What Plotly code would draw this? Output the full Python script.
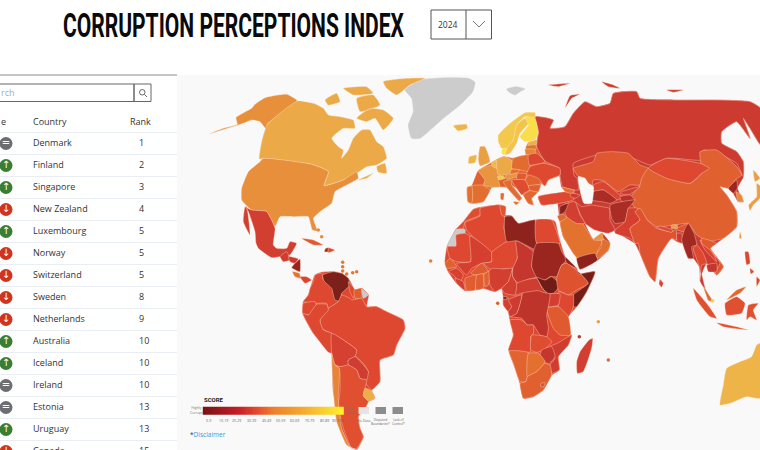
import plotly.graph_objects as go

title = "CORRUPTION PERCEPTIONS INDEX"
year = "2024"
countries = ["Denmark","Finland","Singapore","New Zealand","Luxembourg","Norway","Switzerland","Sweden",
             "Netherlands","Australia","Iceland","Ireland","Estonia","Uruguay","Canada"]
ranks = [1,2,3,4,5,5,5,8,9,10,10,10,13,13,15]
changes = ["same","up","up","down","up","down","down","down","down","up","up","same","same","up","down"]
legend_labels = ["0-9","10-19","20-29","30-39","40-49","50-59","60-69","70-79","80-89","90-100"]

# score (0-100) of every country on the map, read from its shade
scores = {"RUS":22,"CAN":75,"USA":65,"ALK":65,"MEX":26,"GTM":25,"HND":22,"NIC":14,"CRI":58,"PAN":33,"CUB":41,"HTI":16,"DOM":36,
 "COL":34,"VEN":10,"GUY":34,"SUR":42,"ECU":34,"PER":34,"BRA":34,"BOL":28,"PRY":24,"URY":76,"ARG":37,"CHL":63,
 "MAR":36,"ALG":34,"TUN":39,"MRT":34,"MLI":27,"SEN":45,"GIN":28,"LBR":27,"BFA":41,"CIV":42,"GHA":42,"BEN":45,"NGA":26,"NER":34,
 "TCD":21,"LBY":13,"EGY":34,"SDN":15,"SSD":8,"ERI":13,"ETH":38,"SOM":9,"KEN":34,"UGA":26,"TZA":41,"COD":20,"CAF":24,"CMR":26,
 "GAB":27,"COG":23,"GNQ":13,"AGO":34,"ZMB":36,"MOZ":25,"ZWE":21,"NAM":47,"BWA":57,"ZAF":43,"MDG":26,"LSO":37,
 "SAU":59,"YEM":13,"OMN":55,"ARE":68,"IRN":23,"IRQ":26,"SYR":12,"TUR":34,"TKM":17,"UZB":32,"KAZ":40,"KGZ":25,"TJK":19,"AFG":17,
 "PAK":27,"IND":38,"NPL":34,"BTN":72,"LKA":32,"BGD":23,"MMR":16,"THA":34,"LAO":33,"VNM":40,"KHM":21,"CHN":43,"MNG":34,"PRK":15,
 "KOR":64,"JPN":71,"TWN":68,"PHL":33,"IDN":37,"MYS":50,"SGP":84,"AUS":77,
 "NOR":81,"SWE":80,"FIN":88,"DNK":90,"EST":76,"LVA":59,"LTU":63,"GBR":71,"IRL":77,"ISL":77,"FRA":67,"ESP":56,"PRT":57,"DEU":75,
 "NLD":78,"CHE":81,"AUT":67,"POL":53,"CZE":56,"BLR":33,"UKR":35,"ROU":46,"HUN":41,"BLK":36,"BGR":43,"GRC":49,"ITA":54,"GEO":53,"AZE":22,"JOR":49,"CPV":62,"SYC":72,"MUS":51,"COM":21,"STP":45,"BHS":64,"CAR":60,
 "_EUA":22,"_EUR":43,"_AFR":34,"_SAM":34}
no_data = ["GRL","ESH","GUF","SJM"]

# origins of the 3x crops the outlines were read in
A=(180,75); S=(300,265); F=(440,200); E=(460,100); R=(470,75); P=(560,140)

outlines = {
 "_EUA":[(R,"205,170 195,125 250,135 240,160 285,155 310,115 345,80 380,95 420,85 430,55 500,50 510,70 620,75 740,75 840,80 872,100 872,210 840,160 820,130 840,190 800,140 755,170 755,205 800,230 820,260 820,305 802,340 820,380 805,380 790,355 775,340 750,335 770,360 800,410 800,455 760,490 722,520 760,575 740,600 710,565 690,615 728,680 715,675 688,575 670,550 655,550 635,495 622,500 605,490 565,550 555,620 540,605 510,535 495,505 435,470 420,460 375,465 345,445 370,493 395,475 420,505 415,525 383,555 330,583 320,547 280,485 270,440 265,395 262,380 215,390 205,365 290,350 275,336 268,300 225,258 200,215")],
 "_EUR":[(E,"22,262 35,258 55,212 95,188 108,180 130,170 160,175 205,165 198,148 205,128 230,122 255,185 300,205 300,225 265,240 255,258 235,240 245,250 242,255 235,275 232,278 215,295 220,315 205,310 190,285 170,265 155,255 185,295 178,302 140,262 120,260 95,262 90,270 70,305 35,310 24,305")],
 "_AFR":[(F,"100,28 122,22 180,15 197,20 195,45 215,48 235,70 285,60 335,60 345,65 355,105 375,170 410,205 415,222 465,215 440,275 410,320 385,350 392,405 395,405 385,435 355,470 358,510 335,525 310,570 280,590 250,595 240,550 220,490 207,453 220,405 210,360 205,335 190,315 190,290 185,265 165,275 130,265 105,270 75,272 50,250 25,215 15,190 22,138 48,88 70,65")],
 "_SAM":[(S,"45,30 65,22 100,20 125,25 145,40 165,75 185,70 205,90 200,125 230,125 260,140 310,165 315,190 290,240 280,270 240,285 240,350 215,375 225,400 205,410 195,430 175,455 180,490 190,515 170,553 150,545 125,490 100,380 95,265 40,205 8,145 10,110 25,90")],
 "GRL":[(A,"675,45 720,15 800,8 865,10 885,22 878,50 840,90 790,130 720,190 695,190 685,150 700,110 695,70"),(R,"110,42 140,35 165,42 150,50 135,60 118,52")],
 "ALK":[(A,"88,177 130,160 172,148 168,128 215,100 225,88 255,68 320,58 352,78 262,148 272,180 256,160 240,140 215,135 190,145")],
 "CAN":[(A,"352,78 400,85 430,100 445,120 480,125 520,135 525,160 490,160 455,190 475,215 490,225 485,250 505,225 520,190 545,165 570,165 590,200 610,215 620,250 590,270 560,275 530,295 490,315 432,332 445,290 395,268 250,250 238,252 245,200 262,148"),
   (A,"530,130 570,100 610,105 640,130 610,165 585,130 560,140"),(A,"610,20 680,10 735,10 690,30 650,60 620,40"),(A,"435,75 470,55 480,80 445,90"),
   (A,"490,40 560,35 580,55 520,60"),(A,"530,70 580,60 600,90 540,110"),(A,"590,275 615,265 620,295 595,292"),(A,"535,315 580,295 560,310")],
 "USA":[(A,"250,250 395,268 445,290 432,332 490,315 530,290 535,310 500,330 465,350 455,385 420,410 400,430 412,468 397,465 385,425 340,425 300,425 285,455 260,410 215,405 185,375 185,340 205,290 240,260")],
 "MEX":[(A,"195,395 215,405 260,410 285,460 280,510 290,520 320,520 330,500 350,505 330,540 315,545 300,545 275,548 235,520 228,505 225,470 205,410"),(A,"195,395 200,395 210,480 190,440")],
 "GTM":[(A,"300,545 320,530 330,555 310,560")],
 "HND":[(A,"325,545 355,552 345,565 330,560")],
 "NIC":[(A,"345,565 360,552 360,590 335,578")],
 "CRI":[(A,"337,590 358,595 362,610 345,605")],
 "PAN":[(A,"360,605 380,605 395,615 375,625")],
 "CUB":[(A,"365,490 400,495 430,510 400,510")],
 "HTI":[(A,"437,520 445,518 445,530 433,530")],
 "DOM":[(A,"445,518 465,525 445,533")],
 "COL":[(S,"45,30 65,25 70,45 95,60 100,80 125,85 115,110 85,130 80,115 50,115 10,110 25,90 30,70 40,50")],
 "VEN":[(S,"68,30 100,20 125,25 145,40 150,60 125,85 120,108 105,105 95,70 72,48")],
 "GUY":[(S,"145,50 165,75 160,100 150,80")],
 "SUR":[(S,"162,75 185,70 185,100 165,100")],
 "GUF":[(S,"185,72 205,90 190,100")],
 "ECU":[(S,"10,115 45,110 50,130 25,150 8,145")],
 "BRA":[(S,"85,130 115,110 125,90 150,100 155,105 185,100 200,125 230,125 260,140 310,165 315,190 290,240 280,270 240,285 240,350 215,375 195,350 205,320 190,295 165,270 170,255 130,225 95,205 65,190 60,165")],
 "PER":[(S,"8,145 25,150 50,118 80,118 85,135 60,165 70,195 95,205 100,230 95,265 85,262 40,205")],
 "BOL":[(S,"95,205 130,225 170,255 165,275 145,285 145,300 120,305 105,300 95,265")],
 "PRY":[(S,"145,285 165,275 190,300 205,320 200,345 180,340 170,315 145,300")],
 "ARG":[(S,"105,300 120,305 145,300 170,315 180,340 200,345 195,370 190,392 205,410 195,430 175,455 180,490 190,515 170,550 155,550 130,490 115,420 120,380 118,310")],
 "CHL":[(S,"95,265 105,300 118,310 115,400 125,490 150,545 165,553 140,540 110,470 100,380")],
 "URY":[(S,"195,370 215,378 225,400 205,408 190,392")],
 "MAR":[(F,"48,88 70,65 100,28 122,22 120,45 75,65 70,85")],
 "ESH":[(F,"75,88 50,88 22,138 48,138 48,105 75,100")],
 "ALG":[(F,"120,25 180,15 195,50 192,85 200,125 155,157 80,90 75,68 120,48")],
 "TUN":[(F,"180,15 197,20 195,50 185,45")],
 "MRT":[(F,"48,105 75,100 90,108 92,185 50,185 30,175 22,140 48,138")],
 "MLI":[(F,"90,108 155,157 155,185 125,190 95,205 80,225 50,190 92,185")],
 "NER":[(F,"155,157 200,125 228,122 232,175 218,205 190,207 155,210 130,190 155,185")],
 "SEN":[(F,"15,190 30,175 50,200 20,205")],
 "GIN":[(F,"25,215 50,205 70,225 60,245 40,225")],
 "LBR":[(F,"45,235 70,245 75,272 50,250")],
 "BFA":[(F,"92,220 125,190 145,215 110,225")],
 "CIV":[(F,"75,235 110,225 105,270 80,272")],
 "GHA":[(F,"110,225 130,222 130,265 108,270")],
 "BEN":[(F,"132,222 150,213 145,255 135,260")],
 "NGA":[(F,"148,210 160,205 190,207 218,205 205,245 185,265 165,275 150,255")],
 "TCD":[(F,"228,122 280,155 275,200 290,230 265,238 235,250 218,230 218,205 232,175")],
 "LBY":[(F,"195,50 215,48 235,70 285,60 290,130 290,150 230,122 200,125 193,85")],
 "EGY":[(F,"288,60 335,60 355,110 360,130 290,130")],
 "SDN":[(F,"290,130 355,130 365,155 380,180 365,195 350,230 330,230 315,240 290,232 275,200 280,155")],
 "SSD":[(F,"290,232 315,240 335,230 360,255 340,280 320,280 305,260")],
 "ERI":[(F,"375,170 410,205 380,190")],
 "ETH":[(F,"365,195 380,190 415,215 445,250 410,270 385,285 355,270 350,235")],
 "SOM":[(F,"415,222 465,215 440,275 410,320 400,320 400,285 445,250 415,215")],
 "KEN":[(F,"355,275 385,285 400,285 400,320 385,350 355,320")],
 "UGA":[(F,"330,282 360,282 355,315 325,320")],
 "TZA":[(F,"320,325 355,320 385,350 392,405 360,405 340,385")],
 "COD":[(F,"250,275 300,270 330,283 325,320 320,345 325,385 320,410 300,405 280,375 262,375 245,355 210,350 230,340 245,290")],
 "CAF":[(F,"230,250 265,238 290,235 305,262 320,280 295,272 250,278 225,285")],
 "CMR":[(F,"218,205 218,230 230,250 225,285 195,280 185,265 205,245")],
 "GAB":[(F,"190,295 205,295 215,320 205,335 190,315")],
 "COG":[(F,"205,300 245,285 230,340 210,350 205,335 215,320")],
 "GNQ":[(F,"190,290 200,290 200,298 190,298")],
 "AGO":[(F,"210,360 245,360 262,375 280,375 280,400 272,410 272,455 205,452 220,405")],
 "ZMB":[(F,"275,405 290,405 320,410 335,425 312,450 290,457 272,450")],
 "MOZ":[(F,"352,430 395,405 385,435 355,470 358,510 335,520 330,495 345,475 330,440")],
 "ZWE":[(F,"305,450 335,440 345,470 325,492 300,470")],
 "NAM":[(F,"207,453 265,458 262,530 258,545 240,545 220,490")],
 "BWA":[(F,"265,460 295,460 315,485 290,515 262,530")],
 "ZAF":[(F,"258,545 262,530 290,515 315,490 330,495 335,525 310,570 280,590 250,595 240,550")],
 "LSO":[(F,"303,550 315,548 312,560 302,560")],
 "MDG":[(F,"447,420 458,415 455,445 430,515 412,520 410,485 420,455")],
 "RUS":[(R,"195,125 250,135 240,160 285,155 310,115 345,80 380,95 420,85 430,55 500,50 510,70 620,75 740,75 840,80 872,100 872,210 840,160 820,130 840,190 800,140 755,170 755,205 800,230 820,260 820,305 800,265 755,240 700,225 695,255 620,250 590,250 540,270 490,250 435,235 380,240 310,265 312,300 322,312 325,345 278,335 270,300 268,280 225,258 200,215 205,170"),
   (R,"285,100 300,62 330,58 305,70"),(R,"395,20 425,28 450,40 415,35"),(R,"235,30 300,25 265,35"),(R,"590,45 640,45 610,52")],
 "KAZ":[(P,"40,85 100,65 110,40 155,35 205,40 240,75 265,85 240,135 210,135 175,155 130,122 100,120 95,155 85,140 55,110")],
 "CHN":[(P,"245,115 265,85 320,110 390,130 425,100 420,35 470,30 530,80 545,105 525,120 505,145 480,140 500,165 530,215 530,260 490,295 440,305 425,295 410,285 385,250 345,255 290,260 262,240 225,205 210,175 240,135")],
 "MNG":[(P,"265,85 285,70 320,55 420,70 448,85 425,100 390,130 320,115")],
 "SAU":[(P,"0,245 30,228 65,245 100,300 128,300 105,345 50,352 10,290")],
 "YEM":[(P,"50,355 105,340 113,360 60,388")],
 "OMN":[(P,"125,295 150,310 145,330 113,355 108,345 125,318")],
 "ARE":[(P,"125,280 130,300 100,298")],
 "IRN":[(P,"45,185 65,200 95,195 125,200 148,205 150,240 165,270 145,280 105,270 75,250 60,220")],
 "IRQ":[(P,"10,195 45,185 60,225 75,250 50,250 20,230")],
 "SYR":[(P,"0,200 25,190 15,215 0,225")],
 "TUR":[(R,"205,365 290,350 315,355 310,375 215,390")],
 "JOR":[(P,"-8,228 10,222 20,232 0,245")],
 "UZB":[(P,"100,135 130,125 180,165 190,170 170,180 130,150 100,155")],
 "TKM":[(P,"100,155 130,150 170,180 150,190 125,185 95,180")],
 "KGZ":[(P,"185,155 240,140 205,165 180,160")],
 "TJK":[(P,"180,170 210,165 225,180 185,185")],
 "AFG":[(P,"150,195 185,185 225,180 205,205 195,245 165,250 155,235")],
 "PAK":[(P,"165,270 195,245 205,205 232,205 240,240 210,265 225,310 210,295 165,280")],
 "IND":[(P,"240,205 262,240 290,265 335,275 355,262 385,250 370,275 350,270 350,300 335,295 295,355 285,425 270,410 240,340 235,310 225,310 210,265 240,240 225,215")],
 "NPL":[(P,"290,262 300,258 338,270 335,277")],
 "BTN":[(P,"334,255 352,255 352,265 334,265")],
 "LKA":[(P,"300,418 310,430 305,442 297,432")],
 "BGD":[(P,"350,280 365,280 368,310 352,305")],
 "MMR":[(P,"385,250 402,280 410,315 395,320 400,355 385,355 365,300 375,265")],
 "THA":[(P,"410,315 430,340 440,370 425,375 420,420 418,380 400,325")],
 "LAO":[(P,"420,300 445,315 470,365 435,330")],
 "VNM":[(P,"425,295 470,310 452,325 490,380 470,405 465,395 480,370 450,330 425,310")],
 "KHM":[(P,"440,375 470,370 470,395 445,395")],
 "PRK":[(P,"505,145 530,120 532,145 520,160")],
 "KOR":[(P,"528,155 545,165 550,185 535,185")],
 "JPN":[(P,"590,130 603,140 600,175 580,195 570,212 566,195 590,170"),(P,"580,90 600,115 585,125")],
 "TWN":[(P,"540,275 545,295 538,295")],
 "PHL":[(P,"555,335 565,335 570,370 560,375"),(P,"590,410 600,420 590,440"),(P,"570,385 582,395 572,402")],
 "IDN":[(P,"400,445 440,490 470,535 450,530 410,480"),(P,"470,548 530,560 565,570 490,560"),(P,"495,490 530,470 555,490 545,520 500,525"),(P,"565,495 595,490 580,510 590,540 570,530 560,540")],
 "MYS":[(P,"430,440 450,470 458,485 445,480"),(P,"500,480 530,450 558,440 540,460")],
 "AUS":[(R,"860,810 872,805 872,970 830,965 780,985 750,990 760,930 770,880 810,860 845,845")],
 "NOR":[(E,"115,125 115,105 150,70 195,38 225,38 225,55 195,50 170,75 160,120 140,145 125,145")],
 "SWE":[(E,"160,120 170,75 195,55 205,70 180,100 170,130 150,160 135,165 140,145")],
 "FIN":[(E,"195,50 225,55 235,100 225,120 195,125 180,110 205,75")],
 "DNK":[(E,"128,145 140,145 133,165 125,160")],
 "EST":[(E,"205,128 230,122 228,135 205,138")],
 "LVA":[(E,"198,138 228,135 228,148 198,148")],
 "LTU":[(E,"195,148 225,148 225,165 198,165")],
 "GBR":[(E,"60,140 75,140 90,185 60,198 55,180")],
 "IRL":[(E,"28,170 50,165 45,188 25,190")],
 "ISL":[(A,"820,152 860,148 862,160 835,168")],
 "FRA":[(E,"55,212 95,195 125,220 115,240 120,260 95,262 70,255 75,240")],
 "ESP":[(E,"35,258 65,255 90,270 70,305 35,310 38,285")],
 "PRT":[(E,"22,262 35,258 38,285 35,310 24,305")],
 "DEU":[(E,"108,180 130,170 155,180 155,215 135,225 115,225 110,205")],
 "NLD":[(E,"95,188 108,180 110,205 95,198")],
 "CHE":[(E,"112,230 130,228 135,235 118,240")],
 "AUT":[(E,"135,228 172,218 170,230 140,238")],
 "POL":[(E,"160,175 205,165 210,215 180,210 155,205")],
 "CZE":[(E,"155,208 180,210 172,218 150,222")],
 "BLR":[(E,"205,165 230,160 255,185 245,190 208,195")],
 "UKR":[(E,"210,200 250,190 300,205 300,225 265,240 255,258 235,240 200,225")],
 "ROU":[(E,"205,225 235,235 245,250 205,258 195,240")],
 "HUN":[(E,"172,220 200,222 195,240 170,238")],
 "BLK":[(E,"155,240 195,240 205,258 210,270 195,278 185,285 170,265")],
 "BGR":[(E,"205,258 242,255 235,275 210,272")],
 "GRC":[(E,"190,285 210,272 232,278 215,295 220,315 205,310")],
 "ITA":[(E,"130,245 155,240 155,255 185,295 178,302 140,262"),(E,"160,305 178,307 168,315"),(E,"122,280 132,280 130,300 122,298")],
 "GEO":[(E,"305,262 345,272 335,280 315,275")],
 "AZE":[(E,"335,280 360,285 345,295 330,288")],
}
caspian = [(P,"55,110 75,115 85,130 100,140 95,190 72,190 60,150")]
small_isles = {"CAR":[(A,"488,562"),(A,"488,575"),(A,"488,588"),(A,"500,597"),(A,"518,593"),(A,"530,590")],
 "CPV":[(A,"752,558")],"STP":[(F,"173,310")],"COM":[(F,"418,410")],"MUS":[(F,"505,480")],"SYC":[(F,"475,365")],"BHS":[(A,"415,465"),(A,"425,485")],"SGP":[(P,"458,482")]}
map_stops = [(0,"#5e1510"),(8,"#6f1d16"),(15,"#9b2620"),(22,"#cc3a30"),(34,"#de4730"),(43,"#e06030"),(59,"#e3722f"),(65,"#e88f3c"),(75,"#ebaa47"),(81,"#f3c94b"),(90,"#fbe34a"),(100,"#fff03a")]
legend_stops = [[0,"#7a1212"],[0.25,"#c41e28"],[0.38,"#e34a2c"],[0.5,"#ee7f2c"],[0.72,"#f6ab2f"],[1,"#fff12d"]]
legend_scale_values = [list(range(0,101))]

def shade(v):
    for (a,ca),(b,cb) in zip(map_stops,map_stops[1:]):
        if a<=v<=b:
            t=(v-a)/(b-a)
            rgb=[round(int(ca[i:i+2],16)*(1-t)+int(cb[i:i+2],16)*t) for i in (1,3,5)]
            return "rgb(%d,%d,%d)"%tuple(rgb)
    return "#cccccc"

def plane(origin,txt):
    xs,ys=[],[]
    for p in txt.split():
        a,b=p.split(",")
        xs.append(origin[0]+float(a)/3); ys.append(origin[1]+float(b)/3)
    return xs,ys

def area(parts,col,line,width=0.5):
    xs,ys=[],[]
    for o,t in parts:
        a,b=plane(o,t)
        xs+=a+[a[0],None]; ys+=b+[b[0],None]
    fig.add_trace(go.Scatter(x=xs,y=ys,mode="lines",fill="toself",fillcolor=col,
        line=dict(color=line,width=width,shape="spline",smoothing=0.45),hoverinfo="skip",showlegend=False))

fig=go.Figure()
for code,parts in outlines.items():
    if code.startswith("_"):
        area(parts,shade(scores[code]),shade(scores[code]))
    elif code in no_data:
        area(parts,"#cccccc","#cccccc")
    else:
        area(parts,shade(scores[code]),"rgba(255,225,205,0.75)")
area(caspian,"#f9f9f9","#f9f9f9")
for code,parts in small_isles.items():
    px=[plane(o,t)[0][0] for o,t in parts]; py=[plane(o,t)[1][0] for o,t in parts]
    fig.add_trace(go.Scatter(x=px,y=py,mode="markers",marker=dict(size=3.5,color=shade(scores[code])),hoverinfo="skip",showlegend=False))

row_y=[144+22*i for i in range(len(countries))]
icon_c={"same":"#6d6e71","up":"#3a7d34","down":"#d0331f"}
icon_t={"same":"=","up":"↑","down":"↓"}
fig.add_trace(go.Scatter(x=[6]*len(changes),y=[v-0.5 for v in row_y],mode="markers+text",
    marker=dict(size=13,color=[icon_c[c] for c in changes]),text=[icon_t[c] for c in changes],
    textposition="middle center",textfont=dict(color="white",size=10,family="DejaVu Sans"),hoverinfo="skip",showlegend=False))
fig.add_trace(go.Scatter(x=[33]*len(countries),y=row_y,mode="text",text=countries,textposition="middle right",
    textfont=dict(family="Open Sans",size=9,color="#333"),hoverinfo="skip",showlegend=False))
fig.add_trace(go.Scatter(x=[139]*len(ranks),y=row_y,mode="text",text=[str(r) for r in ranks],textposition="middle right",
    textfont=dict(family="Open Sans",size=9,color="#333"),hoverinfo="skip",showlegend=False))
# legend gradient, on an overlay so that it sits above the map
fig.add_trace(go.Heatmap(z=legend_scale_values,x0=203.5,dx=139.5/100,y0=410.5,dy=7.5,colorscale=legend_stops,showscale=False,hoverinfo="skip",xaxis="x2",yaxis="y2",zmin=0,zmax=100))

def ann(x,y,t,size=9,color="#333",fam="Open Sans",anchor="left",bold=False,width=None):
    fig.add_annotation(x=x,y=y,text=t,showarrow=False,xanchor=anchor,yanchor="middle",width=width,borderpad=0,
        font=dict(family=fam,size=size,color=color,weight=700 if bold else 400),align="center")
ann(233.5,25.5,title,size=33,color="#0a0a0a",fam="Roboto",anchor="center",bold=True,width=341)
ann(448,24.5,year,size=8.5,anchor="center")
ann(0,92.5,"rch",size=9,color="#9fb0bd")
ann(32,121,"Country",size=9)
ann(140,121,"Rank",size=9,anchor="center")
ann(0,121,"e",size=9)
ann(203,399,"SCORE",size=6,color="#222",fam="Roboto",bold=True)
ann(196,409.5,"Highly<br>Corrupt",size=3.5,color="#777",anchor="center")
ann(349,409.5,"Very<br>Clean",size=3.5,color="#777",anchor="center")
for lx,l in zip([208.7,223.3,236.7,251.7,266,280,294.3,309,324,337.7],legend_labels):
    ann(lx,420,l,size=3.5,color="#666",anchor="center")
ann(363.5,420,"No Data",size=3.5,color="#666",anchor="center")
ann(380.5,421.5,"Disputed<br>Boundaries*",size=3.2,color="#666",anchor="center")
ann(398.5,421.5,"Lack of<br>Control*",size=3.2,color="#666",anchor="center")
ann(189,434,"<span style='color:#333'>*</span>Disclaimer",size=6.5,color="#3b97d3")

shapes=[dict(type="rect",x0=177,x1=760,y0=75,y1=450,fillcolor="#f9f9f9",line_width=0,layer="below"),
 dict(type="line",x0=0,x1=177,y0=75,y1=75,line=dict(color="#8a8a8a",width=1)),
 dict(type="rect",x0=-3,x1=134,y0=84,y1=101.5,line=dict(color="#666",width=1)),
 dict(type="rect",x0=134,x1=151,y0=84,y1=101.5,line=dict(color="#666",width=1)),
 dict(type="circle",x0=139.5,x1=145,y0=89.5,y1=95,line=dict(color="#444",width=0.8)),
 dict(type="line",x0=144.5,x1=147,y0=94.5,y1=97,line=dict(color="#444",width=0.8)),
 dict(type="rect",x0=431,x1=491.5,y0=10,y1=39,line=dict(color="#555",width=1)),
 dict(type="line",x0=466,x1=466,y0=10,y1=39,line=dict(color="#555",width=1)),
 dict(type="line",x0=473,x1=479,y0=21,y1=27,line=dict(color="#555",width=0.8)),
 dict(type="line",x0=479,x1=485,y0=27,y1=21,line=dict(color="#555",width=0.8)),
 dict(type="rect",x0=358.5,x1=369,y0=407,y1=414,fillcolor="#e4e4e4",line_width=0),
 dict(type="rect",x0=375.5,x1=386,y0=407,y1=414,fillcolor="#8c8c8c",line_width=0),
 dict(type="rect",x0=392.5,x1=403,y0=407,y1=414,fillcolor="#8c8c8c",line_width=0)]
for i in range(len(countries)+1):
    shapes.append(dict(type="line",x0=0,x1=177,y0=132.5+22*i,y1=132.5+22*i,line=dict(color="#e8eef3",width=1),layer="below"))

axis=dict(range=[0,760],visible=False,fixedrange=True)
yax=dict(range=[450,0],visible=False,fixedrange=True)
fig.update_layout(width=760,height=450,margin=dict(l=0,r=0,t=0,b=0),paper_bgcolor="white",plot_bgcolor="white",
    xaxis=axis,yaxis=yax,xaxis2=dict(axis,overlaying="x"),yaxis2=dict(yax,overlaying="y"),shapes=shapes,showlegend=False)
squeeze = """
document.body.style.margin='0';
document.querySelectorAll('.annotation-text').forEach(function(t){
  if(t.textContent.indexOf('CORRUPTION')===0){t.setAttribute('textLength','341');t.setAttribute('lengthAdjust','spacingAndGlyphs');}
});
"""
fig.write_html("out.html",config={"displayModeBar":False},post_script=squeeze)
